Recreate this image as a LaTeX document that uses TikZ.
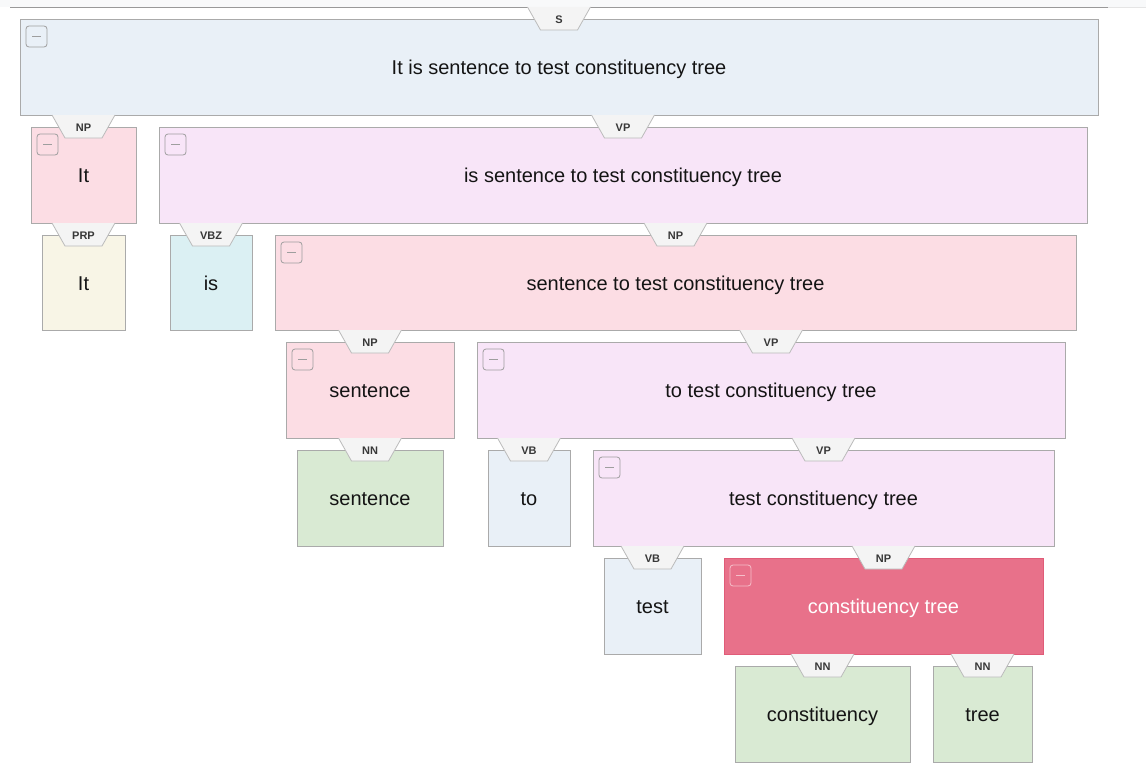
\documentclass[tikz,border=0pt]{standalone}
\usepackage{fontspec}
\setmainfont{Liberation Sans}
\usetikzlibrary{calc}
\definecolor{cblue}{HTML}{E9F0F7}
\definecolor{cpink}{HTML}{FCDDE4}
\definecolor{clav}{HTML}{F8E5F8}
\definecolor{ccream}{HTML}{F8F5E6}
\definecolor{ccyan}{HTML}{DBF0F3}
\definecolor{cgreen}{HTML}{D9EAD3}
\definecolor{cred}{HTML}{E8718A}
\definecolor{credline}{HTML}{E05C78}
\definecolor{cborder}{HTML}{AAAAAA}
\definecolor{ctab}{HTML}{F4F4F4}
\definecolor{ctabline}{HTML}{BBBBBB}
\definecolor{ctop}{HTML}{F8F9FA}
\tikzset{
  cbox/.style={draw=cborder, line width=0.8pt, inner sep=0pt, outer sep=0pt,
    font=\fontsize{20}{24}\selectfont, text=black!92, text height=18pt, text depth=3pt},
  tabfill/.style={fill=ctab},
  tabline/.style={draw=ctabline, line width=0.8pt},
  tablabel/.style={font=\fontsize{11}{13}\selectfont\bfseries, text=black!78, inner sep=0pt},
  minusbtn/.style={draw=black!38, rounded corners=3pt, line width=0.8pt,
    minimum width=21pt, minimum height=21pt, inner sep=0pt},
  minusline/.style={draw=black!38, line width=1.2pt},
}
\newcommand\ctbox[8]{%
  \node[cbox,#6,minimum width={#4pt-#2pt},minimum height={#5pt-#3pt}] (#1) at ({(#2+#4)/2},{(#3+#5)/2}) {#8};
  \fill[tabfill] ($(#1.north)+(-31.5,-12)$) -- ++(63,0) -- ++(-13,23) -- ++(-37,0) -- cycle;
  \draw[tabline] ($(#1.north)+(-31.5,-12)$) -- ++(13,23) -- ++(37,0) -- ++(13,-23);
  \node[tablabel] (#1-tag) at ($(#1.north)+(0,0.5)$) {#7};
}
\newcommand\ctminus[2]{%
  \node[minusbtn,#2] (#1-btn) at ($(#1.north west)+(16.5,17.5)$) {};
  \draw[minusline,#2] ($(#1-btn.center)+(-4.5,0)$) -- ($(#1-btn.center)+(4.5,0)$);
}
\begin{document}
\begin{tikzpicture}[x=1pt,y=-1pt]
\useasboundingbox (0,0) rectangle (1146,776);
\fill[white] (0,0) rectangle (1146,776);
\fill[ctop] (0,0) rectangle (1146,7);
\draw[black!40, line width=0.9pt] (10,7) -- (1108,7);
\draw[black!10, line width=0.9pt] (1108,7) -- (1146,7);

\ctbox{s}{20}{19}{1098}{115}{fill=cblue}{S}{It is sentence to test constituency tree}
\ctminus{s}{}
\ctbox{np1}{31}{127}{136}{223}{fill=cpink}{NP}{It}
\ctminus{np1}{}
\ctbox{vp1}{159}{127}{1087}{223}{fill=clav}{VP}{is sentence to test constituency tree}
\ctminus{vp1}{}
\ctbox{prp}{42}{235}{125}{330}{fill=ccream}{PRP}{It}
\ctbox{vbz}{170}{235}{252}{330}{fill=ccyan}{VBZ}{is}
\ctbox{np2}{275}{235}{1076}{330}{fill=cpink}{NP}{sentence to test constituency tree}
\ctminus{np2}{}
\ctbox{np3}{286}{342}{454}{438}{fill=cpink}{NP}{sentence}
\ctminus{np3}{}
\ctbox{vp2}{477}{342}{1065}{438}{fill=clav}{VP}{to test constituency tree}
\ctminus{vp2}{}
\ctbox{nn1}{297}{450}{443}{546}{fill=cgreen}{NN}{sentence}
\ctbox{vb1}{488}{450}{570}{546}{fill=cblue}{VB}{to}
\ctbox{vp3}{593}{450}{1054}{546}{fill=clav}{VP}{test constituency tree}
\ctminus{vp3}{}
\ctbox{vb2}{604}{558}{701}{654}{fill=cblue}{VB}{test}
\ctbox{np4}{724}{558}{1043}{654}{fill=cred,draw=credline,text=white}{NP}{constituency tree}
\ctminus{np4}{draw=white!55!cred}
\ctbox{nn2}{735}{666}{910}{762}{fill=cgreen}{NN}{constituency}
\ctbox{nn3}{933}{666}{1032}{762}{fill=cgreen}{NN}{tree}
\end{tikzpicture}
\end{document}
